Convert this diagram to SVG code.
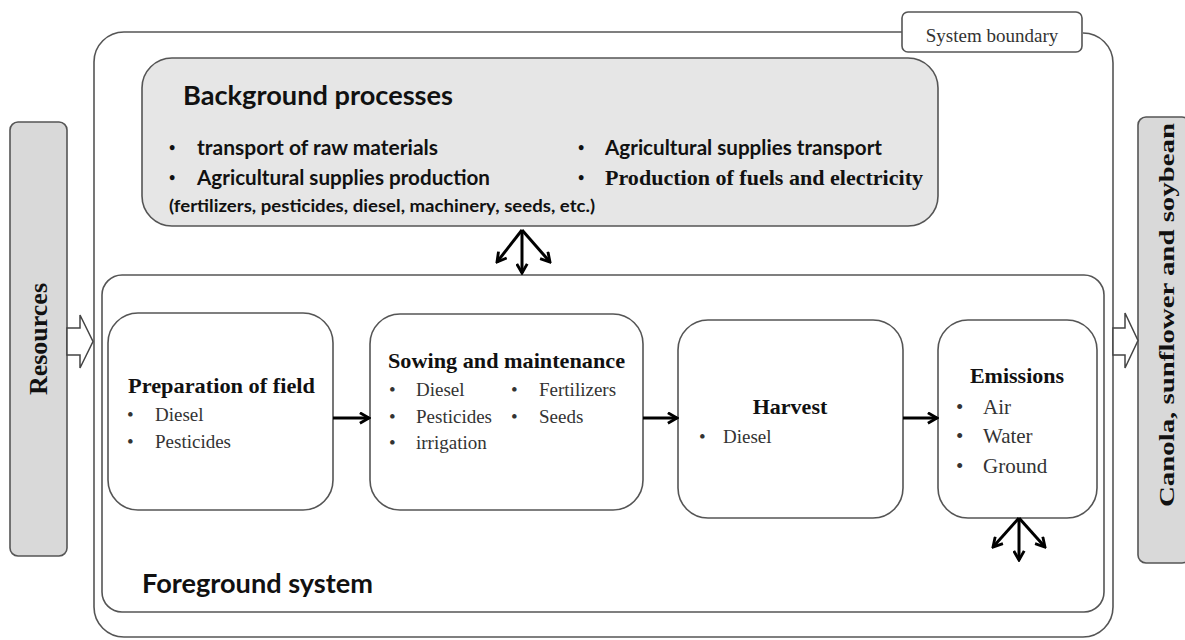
<svg xmlns="http://www.w3.org/2000/svg" width="1185" height="640" viewBox="0 0 1185 640">
<defs>
<marker id="v" viewBox="0 0 10 10" refX="8.5" refY="5" markerWidth="13" markerHeight="13" markerUnits="userSpaceOnUse" orient="auto"><path d="M1.5,1 L8.5,5 L1.5,9" fill="none" stroke="#000" stroke-width="2.2"/></marker>
</defs>
<style>
.box{fill:#fff;stroke:#555;stroke-width:1.6}
.gray{fill:#d9d9d9;stroke:#555;stroke-width:1.6}
.sans{font-family:Lato,"Open Sans",sans-serif;font-weight:bold;fill:#111}
.dot{font-family:"Liberation Serif",serif;font-weight:bold;fill:#111}
.serif{font-family:"Liberation Serif","Times New Roman",serif;fill:#333}
.b{font-weight:bold;fill:#111}
.arr{stroke:#000;stroke-width:3;fill:none;marker-end:url(#v)}
.hollow{fill:#fff;stroke:#444;stroke-width:1.5}
</style>
<rect width="1185" height="640" fill="#fff"/>

<g id="system-boundary">
<path d="M902,32 H124 A30,30 0 0 0 94,62 V607 A30,30 0 0 0 124,637 H1083 A30,30 0 0 0 1113,607 V63 A30,30 0 0 0 1083,33" fill="none" stroke="#555" stroke-width="1.6"/>
<rect x="902" y="12" width="180" height="40" rx="6" class="box"/>
<text x="992" y="42" class="serif" font-size="19" text-anchor="middle" fill="#222">System boundary</text>
</g>

<g id="resources">
<rect x="10" y="122" width="57" height="434" rx="8" class="gray"/>
<text transform="translate(47,339) rotate(-90)" class="serif b" font-size="25" text-anchor="middle" textLength="112" lengthAdjust="spacingAndGlyphs">Resources</text>
</g>

<g id="products">
<rect x="1138" y="117" width="52" height="446" rx="8" class="gray"/>
<text transform="translate(1174,315) rotate(-90)" class="serif b" font-size="22" text-anchor="middle" textLength="384" lengthAdjust="spacingAndGlyphs">Canola, sunflower and soybean</text>
</g>

<g id="background-processes">
<rect x="142" y="58" width="796" height="168" rx="30" fill="#e6e6e6" stroke="#555" stroke-width="1.6"/>
<text x="183" y="105" class="sans" font-size="26" textLength="270" lengthAdjust="spacingAndGlyphs">Background processes</text>
<text x="169" y="154" class="dot" font-size="18">•</text>
<text x="197" y="155" class="sans" font-size="20" textLength="241" lengthAdjust="spacingAndGlyphs">transport of raw materials</text>
<text x="169" y="184" class="dot" font-size="18">•</text>
<text x="197" y="185" class="sans" font-size="20" textLength="293" lengthAdjust="spacingAndGlyphs">Agricultural supplies production</text>
<text x="169" y="212" class="sans" font-size="17" textLength="426" lengthAdjust="spacingAndGlyphs">(fertilizers, pesticides, diesel, machinery, seeds, etc.)</text>
<text x="578" y="154" class="dot" font-size="18">•</text>
<text x="605" y="155" class="sans" font-size="20" textLength="277" lengthAdjust="spacingAndGlyphs">Agricultural supplies transport</text>
<text x="578" y="184" class="dot" font-size="18">•</text>
<text x="605" y="185" class="serif b" font-size="22" textLength="318" lengthAdjust="spacingAndGlyphs">Production of fuels and electricity</text>
</g>

<g id="foreground-system">
<rect x="102" y="275" width="1002" height="337" rx="20" class="box"/>
<text x="142" y="593" class="sans" font-size="27" textLength="231" lengthAdjust="spacingAndGlyphs">Foreground system</text>
</g>

<g id="preparation">
<rect x="108" y="313" width="225" height="197" rx="30" class="box"/>
<text x="128" y="393" class="serif b" font-size="22" textLength="187" lengthAdjust="spacingAndGlyphs">Preparation of field</text>
<text x="127" y="421" class="serif" font-size="19">•</text>
<text x="155" y="421" class="serif" font-size="19">Diesel</text>
<text x="127" y="448" class="serif" font-size="19">•</text>
<text x="155" y="448" class="serif" font-size="19">Pesticides</text>
</g>

<g id="sowing">
<rect x="370" y="314" width="273" height="196" rx="30" class="box"/>
<text x="388" y="368" class="serif b" font-size="22" textLength="237" lengthAdjust="spacingAndGlyphs">Sowing and maintenance</text>
<text x="389" y="396" class="serif" font-size="19">•</text>
<text x="416" y="396" class="serif" font-size="19">Diesel</text>
<text x="389" y="423" class="serif" font-size="19">•</text>
<text x="416" y="423" class="serif" font-size="19">Pesticides</text>
<text x="389" y="449" class="serif" font-size="19">•</text>
<text x="416" y="449" class="serif" font-size="19">irrigation</text>
<text x="511" y="396" class="serif" font-size="19">•</text>
<text x="539" y="396" class="serif" font-size="19">Fertilizers</text>
<text x="511" y="423" class="serif" font-size="19">•</text>
<text x="539" y="423" class="serif" font-size="19">Seeds</text>
</g>

<g id="harvest">
<rect x="678" y="320" width="225" height="198" rx="30" class="box"/>
<text x="790" y="414" class="serif b" font-size="22" text-anchor="middle">Harvest</text>
<text x="699" y="443" class="serif" font-size="19">•</text>
<text x="723" y="443" class="serif" font-size="19">Diesel</text>
</g>

<g id="emissions">
<rect x="938" y="320" width="159" height="198" rx="30" class="box"/>
<text x="1017" y="383" class="serif b" font-size="22" text-anchor="middle">Emissions</text>
<text x="956" y="414" class="serif" font-size="21">•</text>
<text x="983" y="414" class="serif" font-size="21">Air</text>
<text x="956" y="443" class="serif" font-size="21">•</text>
<text x="983" y="443" class="serif" font-size="21">Water</text>
<text x="956" y="473" class="serif" font-size="21">•</text>
<text x="983" y="473" class="serif" font-size="21">Ground</text>
</g>

<g id="connectors">
<polygon class="hollow" points="67,328 80,328 80,315 93,341.5 80,368 80,355 67,355"/>
<polygon class="hollow" points="1113,328 1125,328 1125,313 1138,340.5 1125,368 1125,355 1113,355"/>
<line class="arr" x1="333" y1="418" x2="369" y2="418"/>
<line class="arr" x1="643" y1="418" x2="677" y2="418"/>
<line class="arr" x1="903" y1="418" x2="937" y2="418"/>
<line class="arr" x1="522" y1="230" x2="522" y2="273"/>
<line class="arr" x1="522" y1="230" x2="497" y2="262"/>
<line class="arr" x1="522" y1="230" x2="550" y2="262"/>
<line class="arr" x1="1019" y1="518" x2="1019" y2="560"/>
<line class="arr" x1="1019" y1="518" x2="993" y2="547"/>
<line class="arr" x1="1019" y1="518" x2="1045" y2="547"/>
</g>
</svg>
